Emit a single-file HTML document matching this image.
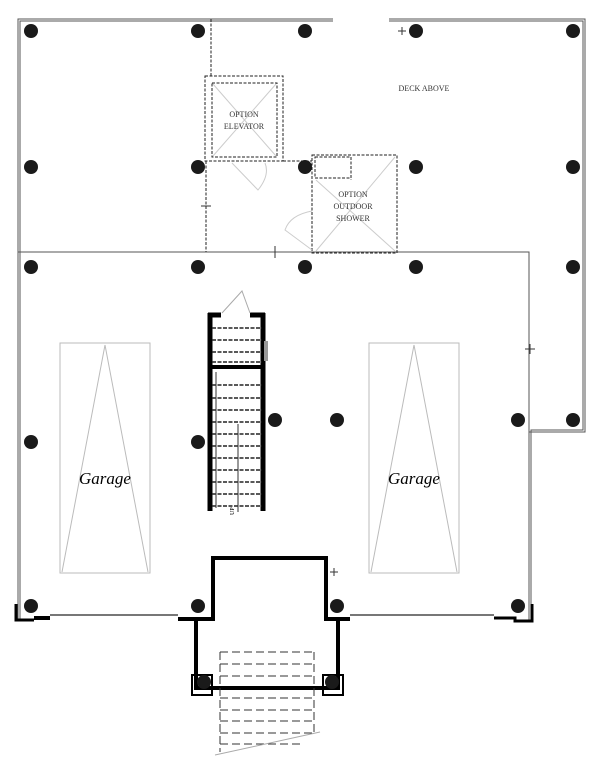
<!DOCTYPE html>
<html><head><style>body{margin:0;background:#fff}svg{display:block}</style></head><body>
<svg width="610" height="768" viewBox="0 0 610 768" xmlns="http://www.w3.org/2000/svg" font-family="Liberation Serif, serif">
<g fill="none" stroke="#555" stroke-width="1">
<path d="M18 620 V19 H333"/><path d="M20 620 V21 H333"/>
<path d="M389 19 H585 V432 H529 V620"/><path d="M389 21 H583 V430 H531 V620"/>
<path d="M18 252 H529 V432"/>
</g>
<g stroke="#000" fill="none">
<path d="M16 604 V620 H34" stroke-width="3"/>
<path d="M34 618 H50" stroke-width="4"/>
<path d="M50 615 H178" stroke="#777" stroke-width="2"/>
<path d="M178 619 H213 V558 H326 V619 H350" stroke-width="4"/>
<path d="M350 615 H494" stroke="#777" stroke-width="2" />
<path d="M494 618 H515 V621 H532 V604" stroke-width="3"/>
<path d="M196 619 V688 H338 V619" stroke-width="4"/>
<rect x="192" y="675" width="20" height="20" stroke-width="2"/>
<rect x="323" y="675" width="20" height="20" stroke-width="2"/>
</g>
<g stroke="#333" stroke-dasharray="8,4" stroke-width="1">
<path d="M220 652 H314 M220 664 H314 M220 676 H314 M220 698 H314 M220 710 H314 M220 721 H314 M220 733 H314 M220 744 H300 M220 652 V752 M314 652 V733"/>
</g>
<path d="M215 755 L320 732" stroke="#aaa" fill="none"/>
<g stroke="#bbb" fill="none">
<rect x="60" y="343" width="90" height="230"/>
<rect x="369" y="343" width="90" height="230"/>
<path d="M105 345 L62 572 M105 345 L148 572 M414 345 L371 572 M414 345 L457 572"/>
</g>
<text x="105" y="484" font-size="17" font-style="italic" text-anchor="middle">Garage</text>
<text x="414" y="484" font-size="17" font-style="italic" text-anchor="middle">Garage</text>
<g stroke="#000" fill="none">
<path d="M210 313 V511 M263 313 V511" stroke-width="5"/>
<path d="M208 315 H221 M250 315 H265" stroke-width="5"/>
<path d="M212 367 H262" stroke-width="4"/>
</g>
<g stroke="#222" stroke-dasharray="4,1.5" stroke-width="1.5">
<path d="M212 328 H262 M212 340 H262 M212 352 H262 M212 362 H262 M212 385 H262 M212 398 H262 M212 410 H262 M212 422 H262 M212 434 H262 M212 446 H262 M212 458 H262 M212 470 H262 M212 482 H262 M212 494 H262 M212 506 H262"/>
</g>
<path d="M216 372 V508 M238 424 V512" stroke="#333" fill="none"/>
<rect x="264" y="341" width="4" height="20" fill="#999"/>
<path d="M222 313 L242 291 L250 313" stroke="#aaa" fill="none"/>
<text x="234" y="515" font-size="6" transform="rotate(-90 234 515)">UP</text>
<g stroke="#222" fill="none" stroke-dasharray="3,1.5">
<rect x="205" y="76" width="78" height="85"/>
<rect x="212" y="83" width="65" height="74"/>
<path d="M211 19 V76 M206 161 V252 M283 161 H312"/>
<rect x="312" y="155" width="85" height="98"/>
<rect x="315" y="157" width="36" height="21"/>
<path d="M351 157 V180"/>
</g>
<g stroke="#ccc" fill="none">
<path d="M213 84 L276 156 M276 84 L213 156 M316 180 L395 251 M395 157 L316 251"/>
<path d="M232 163 L258 190 Q270 175 265 163 M312 211 Q290 215 285 230 L312 250"/>
</g>
<text x="244" y="117" font-size="8" text-anchor="middle" fill="#333">OPTION</text>
<text x="244" y="129" font-size="8" text-anchor="middle" fill="#333">ELEVATOR</text>
<text x="353" y="197" font-size="8" text-anchor="middle" fill="#333">OPTION</text>
<text x="353" y="209" font-size="8" text-anchor="middle" fill="#333">OUTDOOR</text>
<text x="353" y="221" font-size="8" text-anchor="middle" fill="#333">SHOWER</text>
<text x="424" y="91" font-size="8" text-anchor="middle" fill="#333">DECK ABOVE</text>
<g stroke="#333">
<path d="M398 31 h8 M402 27 v8 M201 206 h10 M275 246 v12 M525 349 h10 M530 344 v10 M330 572 h8 M334 568 v8"/>
</g>
<g fill="#1a1a1a">
<circle cx="31" cy="31" r="7"/><circle cx="198" cy="31" r="7"/><circle cx="305" cy="31" r="7"/><circle cx="416" cy="31" r="7"/><circle cx="573" cy="31" r="7"/>
<circle cx="31" cy="167" r="7"/><circle cx="198" cy="167" r="7"/><circle cx="305" cy="167" r="7"/><circle cx="416" cy="167" r="7"/><circle cx="573" cy="167" r="7"/>
<circle cx="31" cy="267" r="7"/><circle cx="198" cy="267" r="7"/><circle cx="305" cy="267" r="7"/><circle cx="416" cy="267" r="7"/><circle cx="573" cy="267" r="7"/>
<circle cx="275" cy="420" r="7"/><circle cx="337" cy="420" r="7"/><circle cx="518" cy="420" r="7"/><circle cx="573" cy="420" r="7"/>
<circle cx="31" cy="442" r="7"/><circle cx="198" cy="442" r="7"/>
<circle cx="31" cy="606" r="7"/><circle cx="198" cy="606" r="7"/><circle cx="337" cy="606" r="7"/><circle cx="518" cy="606" r="7"/>
<circle cx="204" cy="682" r="7"/><circle cx="332" cy="682" r="7"/>
</g>
</svg>
</body></html>
